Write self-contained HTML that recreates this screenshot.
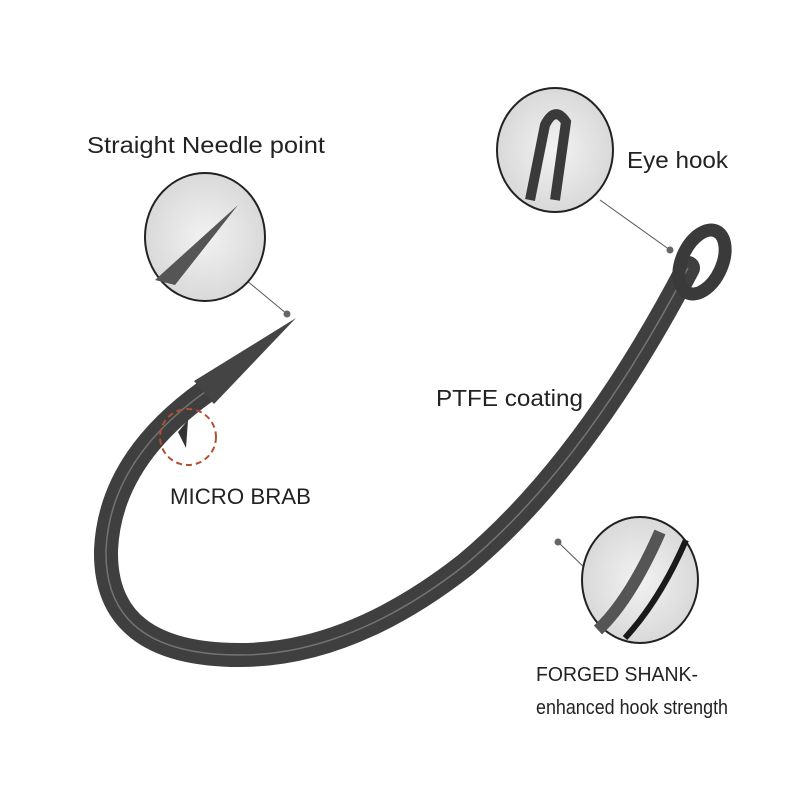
<!DOCTYPE html>
<html><head><style>
body{margin:0;background:#fff;width:800px;height:800px;overflow:hidden}
svg{display:block}
text{font-family:"Liberation Sans",sans-serif;fill:#222}
</style></head><body>
<svg width="800" height="800" viewBox="0 0 800 800">
<defs>
<radialGradient id="g" cx="50%" cy="50%" r="60%"><stop offset="0" stop-color="#f2f2f2"/><stop offset="1" stop-color="#d4d4d4"/></radialGradient>
</defs>
<path d="M205 392 Q110 460 106 550 Q104 655 240 655 Q350 655 465 565 Q585 465 688 268" fill="none" stroke="#3f3f3f" stroke-width="24" stroke-linecap="round"/>
<path d="M205 392 Q110 460 106 550 Q104 655 240 655 Q350 655 465 565 Q585 465 688 268" fill="none" stroke="#8a8a8a" stroke-width="1.5" opacity="0.7"/>
<polygon points="296,318 194,381 214,404" fill="#444"/>
<polygon points="178,432 188,420 186,448" fill="#333"/>
<ellipse cx="702" cy="262" rx="20" ry="34" transform="rotate(25 702 262)" fill="none" stroke="#3a3a3a" stroke-width="13"/>
<circle cx="188" cy="437" r="28" fill="none" stroke="#b05030" stroke-width="2" stroke-dasharray="6,4"/>
<line x1="246" y1="280" x2="287" y2="314" stroke="#555"/><circle cx="287" cy="314" r="3.5" fill="#666"/>
<line x1="600" y1="200" x2="670" y2="250" stroke="#555"/><circle cx="670" cy="250" r="3.5" fill="#666"/>
<line x1="558" y1="542" x2="590" y2="573" stroke="#555"/><circle cx="558" cy="542" r="3.5" fill="#666"/>
<ellipse cx="205" cy="237" rx="60" ry="64" fill="url(#g)" stroke="#222" stroke-width="2"/>
<path d="M155 280 L238 205 L175 285 Z" fill="#555"/>
<ellipse cx="555" cy="150" rx="58" ry="62" fill="url(#g)" stroke="#222" stroke-width="2"/>
<path d="M530 200 L545 125 Q555 105 566 122 L555 200" fill="none" stroke="#3a3a3a" stroke-width="10"/>
<ellipse cx="640" cy="580" rx="58" ry="63" fill="url(#g)" stroke="#222" stroke-width="2"/>
<path d="M598 630 Q630 600 660 532" fill="none" stroke="#555" stroke-width="12"/>
<path d="M625 638 Q660 600 686 540" fill="none" stroke="#1a1a1a" stroke-width="6"/>
<text x="87" y="153" font-size="23" textLength="238" lengthAdjust="spacingAndGlyphs">Straight Needle point</text>
<text x="627" y="168" font-size="23" textLength="101" lengthAdjust="spacingAndGlyphs">Eye hook</text>
<text x="436" y="406" font-size="23" textLength="147" lengthAdjust="spacingAndGlyphs">PTFE coating</text>
<text x="170" y="504" font-size="22" textLength="141" lengthAdjust="spacingAndGlyphs">MICRO BRAB</text>
<text x="536" y="681" font-size="20" textLength="162" lengthAdjust="spacingAndGlyphs">FORGED SHANK-</text>
<text x="536" y="714" font-size="20" textLength="192" lengthAdjust="spacingAndGlyphs">enhanced hook strength</text>
</svg>
</body></html>
